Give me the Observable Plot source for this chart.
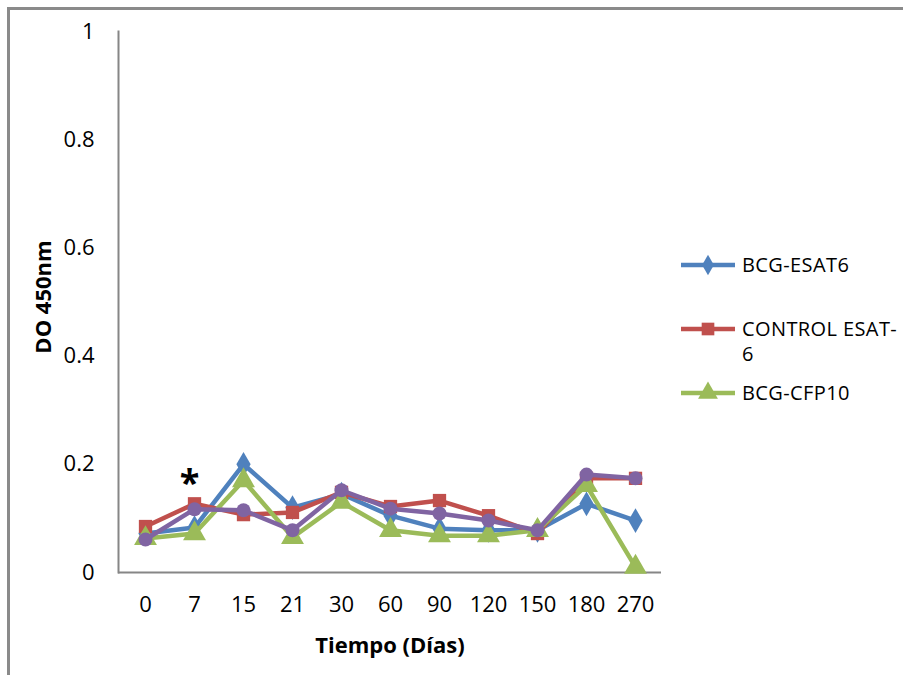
<!DOCTYPE html>
<html>
<head>
<meta charset="utf-8">
<script src="https://cdn.jsdelivr.net/npm/d3@7"></script>
<script src="https://cdn.jsdelivr.net/npm/@observablehq/plot@0.6"></script>
<style>
  html, body { margin: 0; padding: 0; background: #fff; }
  #wrap { position: relative; width: 903px; height: 675px; overflow: hidden; font-family: "Open Sans", sans-serif; }
  #frame { position: absolute; left: 7px; top: 7px; width: 920px; height: 700px; border-left: 3px solid #8a8a8a; border-top: 3px solid #8a8a8a; box-sizing: border-box; }
  #chart { position: absolute; left: 0; top: 0; }
  #legend { position: absolute; left: 680px; top: 0; width: 223px; }
  .item { position: absolute; left: 0; display: flex; align-items: flex-start; }
  .item svg { flex: none; }
  .item span { margin-left: 6px; font-size: 20px; line-height: 25px; letter-spacing: 0.4px; color: #000; width: 162px; }
</style>
</head>
<body>
<div id="wrap">
  <div id="frame"></div>
  <div id="chart"></div>
  <div id="legend"></div>
</div>
<script>
const categories = ["0","7","15","21","30","60","90","120","150","180","270"];
const bcgEsat6    = [0.072, 0.083, 0.200, 0.120, 0.145, 0.105, 0.081, 0.078, 0.078, 0.127, 0.096];
const controlEsat6= [0.085, 0.127, 0.107, 0.111, 0.148, 0.122, 0.133, 0.105, 0.072, 0.174, 0.174];
const bcgCfp10    = [0.063, 0.072, 0.170, 0.065, 0.130, 0.078, 0.068, 0.068, 0.078, 0.161, 0.010];
const fourthSeries= [0.061, 0.117, 0.115, 0.078, 0.152, 0.118, 0.109, 0.096, 0.078, 0.181, 0.174];
const yTicks = [0, 0.2, 0.4, 0.6, 0.8, 1];
const annotation = [{cat: "7", value: 0.165, text: "*"}];

const seriesDefs = [
  {name: "BCG-ESAT6", values: bcgEsat6, color: "#4F81BD", symbol: "diamond", r: 7.5, legend: true},
  {name: "CONTROL ESAT-6", values: controlEsat6, color: "#C0504D", symbol: "square", r: 7.5, legend: true},
  {name: "BCG-CFP10", values: bcgCfp10, color: "#9BBB59", symbol: "triangle", r: 8.5, legend: true},
  {name: "Serie 4", values: fourthSeries, color: "#8064A2", symbol: "circle", r: 7, legend: false}
];

const marks = [];
for (const s of seriesDefs) {
  const data = categories.map((c, i) => ({cat: c, value: s.values[i]}));
  marks.push(Plot.line(data, {x: "cat", y: "value", stroke: s.color, strokeWidth: 4.5, strokeLinejoin: "round"}));
  marks.push(Plot.dot(data, {x: "cat", y: "value", fill: s.color, stroke: "none", symbol: s.symbol, r: s.r}));
}

const chart = Plot.plot({
  width: 903,
  height: 675,
  marginLeft: 118,
  marginRight: 242,
  marginTop: 31,
  marginBottom: 103,
  style: {fontFamily: "Open Sans, sans-serif", fontSize: "22px", color: "#000", background: "transparent"},
  x: {type: "point", domain: categories, padding: 0.5, label: null},
  y: {domain: [0, 1], label: null},
  marks: [
    Plot.axisY({ticks: yTicks, tickSize: 0, tickPadding: 24, tickFormat: d => String(d), fontSize: 22}),
    Plot.axisX({tickSize: 0, tickPadding: 24, fontSize: 22}),
    Plot.frame({anchor: "left", stroke: "#868686", strokeWidth: 2}),
    Plot.ruleY([0], {stroke: "#868686", strokeWidth: 2}),
    ...marks,
    Plot.text(annotation, {x: "cat", y: "value", text: "text", dx: -5, fontSize: 36, fontWeight: "bold", fill: "#000"}),
    Plot.text(["Tiempo (Días)"], {frameAnchor: "bottom", textAnchor: "middle", dy: 80, fontSize: 22, fontWeight: "bold", fill: "#000"}),
    Plot.text(["DO 450nm"], {frameAnchor: "left", textAnchor: "middle", dx: -75, dy: -5, rotate: -90, fontSize: 22, fontWeight: "bold", fill: "#000"})
  ]
});
document.getElementById("chart").appendChild(chart);

// Legend
const legend = document.getElementById("legend");
const legendTops = [252, 316, 380];
const symbolPath = {
  diamond: d3.symbol(d3.symbolDiamond, 120)(),
  square: d3.symbol(d3.symbolSquare, 160)(),
  triangle: d3.symbol(d3.symbolTriangle, 170)()
};
seriesDefs.filter(s => s.legend).forEach((s, i) => {
  const div = document.createElement("div");
  div.className = "item";
  div.style.top = legendTops[i] + "px";
  const label = s.name.replace(/ /g, "\u00a0").replace(/-(?=\d)/g, "-<wbr>");
  div.innerHTML = `<svg width="56" height="26"><line x1="1" x2="55" y1="13" y2="13" stroke="${s.color}" stroke-width="4.5"/>` +
    `<path transform="translate(28,13)" d="${symbolPath[s.symbol]}" fill="${s.color}"/></svg><span>${label}</span>`;
  legend.appendChild(div);
});
</script>
</body>
</html>
